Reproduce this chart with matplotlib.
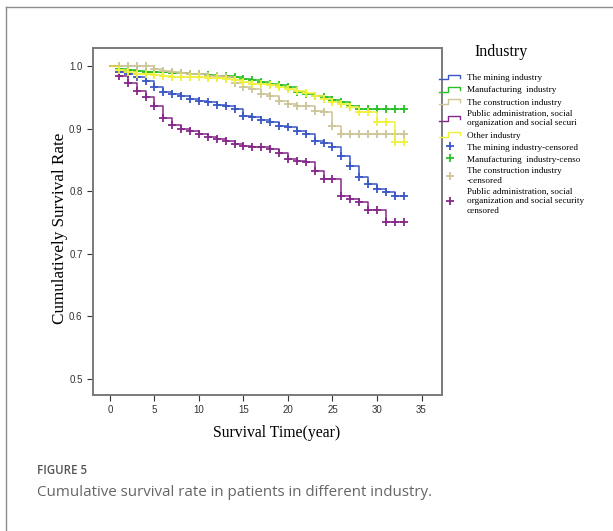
import matplotlib
matplotlib.use('Agg')
import matplotlib.pyplot as plt
from matplotlib.lines import Line2D
from matplotlib.legend_handler import HandlerBase

# Survival time (years) and Kaplan-Meier estimates per industry
years = list(range(0, 34))

mining = [1.0, .991, .988, .983, .976, .967, .959, .956, .953, .948, .945, .943, .938, .936, .932, .921, .918,
          .914, .911, .904, .902, .896, .891, .881, .877, .871, .857, .841, .822, .812, .804, .798, .793, .793]
manufacturing = [1.0, .996, .994, .993, .991, .991, .990, .989, .989, .988, .987, .986, .985, .984, .982, .980, .978,
                 .975, .972, .970, .966, .959, .956, .953, .950, .946, .943, .937, .932, .932, .932, .932, .932, .932]
construction = [1.0, 1.0, 1.0, 1.0, 1.0, .996, .993, .991, .989, .988, .987, .985, .984, .983, .973, .967, .964,
                .956, .953, .944, .939, .937, .937, .928, .927, .905, .891, .891, .891, .891, .891, .891, .891, .891]
public_admin = [1.0, .985, .973, .960, .950, .936, .917, .906, .900, .897, .891, .887, .883, .880, .876, .873, .871,
                .871, .868, .861, .852, .848, .847, .833, .820, .820, .793, .788, .782, .770, .770, .750, .750, .750]
other = [1.0, .994, .991, .988, .988, .986, .984, .983, .982, .982, .982, .981, .981, .980, .978, .975, .972,
         .971, .970, .967, .964, .961, .957, .953, .948, .943, .939, .935, .927, .927, .911, .911, .879, .879]

series = [
    ('The mining industry', mining, '#3b57c6'),
    ('Manufacturing  industry', manufacturing, '#26c026'),
    ('The construction industry', construction, '#cdc497'),
    ('Public administration, social\norganization and social securi', public_admin, '#86288a'),
    ('Other industry', other, '#f0f03c'),
]
censored_labels = [
    'The mining industry-censored',
    'Manufacturing  industry-censo',
    'The construction industry\n-censored',
    'Public administration, social\norganization and social security\ncensored',
]


class StepHandler(HandlerBase):
    # little step glyph like the SPSS legend
    def create_artists(self, legend, orig_handle, xdescent, ydescent, width, height, fontsize, trans):
        x0 = -xdescent
        y0 = -ydescent
        xs = [x0, x0 + 0.45 * width, x0 + 0.45 * width, x0 + width, x0 + width]
        ys = [y0 + 0.15 * height, y0 + 0.15 * height, y0 + 0.85 * height, y0 + 0.85 * height, y0 + 0.45 * height]
        ln = Line2D(xs, ys, color=orig_handle.get_color(), lw=1.0)
        ln.set_transform(trans)
        return [ln]


fig = plt.figure(figsize=(6.13, 5.31), dpi=100)
ax = fig.add_axes([93 / 613, 1 - 395 / 531, (442 - 93) / 613, (395 - 48) / 531])

line_handles = []
cens_handles = []
for i, (name, vals, col) in enumerate(series):
    ln, = ax.plot(years, vals, drawstyle='steps-post', color=col, lw=1.1, zorder=3 + i * 0.1)
    mk, = ax.plot(years[1:], vals[1:], linestyle='none', marker='+', ms=6, mew=1.3, color=col, zorder=3 + i * 0.1)
    line_handles.append(ln)
    cens_handles.append(mk)

ax.set_xlim(-1.9, 37.3)
ax.set_ylim(0.474, 1.029)
ax.set_xticks(range(0, 36, 5))
ax.set_yticks([0.5, 0.6, 0.7, 0.8, 0.9, 1.0])
ax.set_yticklabels(['0.5', '0.6', '0.7', '0.8', '0.9', '1.0'])
ax.tick_params(labelsize=7, colors='#333333', length=4, width=0.8)
for lab in ax.get_xticklabels() + ax.get_yticklabels():
    lab.set_family('Liberation Sans')
for sp in ax.spines.values():
    sp.set_color('#7a7a7a')
    sp.set_linewidth(1.4)

ax.set_xlabel('Survival Time(year)', family='Liberation Serif', fontsize=11.3)
ax.set_ylabel('Cumulatively Survival Rate', family='Liberation Serif', fontsize=12.3)
ax.xaxis.set_label_coords(0.527, -0.086)
ax.yaxis.set_label_coords(-0.072, 0.48)

handles = line_handles + cens_handles[:4]
labels = [s[0] for s in series] + censored_labels
handler_map = {h: StepHandler() for h in line_handles}
fig.legend(handles, labels, handler_map=handler_map, loc='upper left',
           bbox_to_anchor=(439 / 613, 1 - 74 / 531), frameon=False,
           prop={'family': 'Liberation Serif', 'size': 6.6}, handlelength=2.3,
           handletextpad=0.75, labelspacing=0.4, borderpad=0, borderaxespad=0)
fig.text(501 / 613, 1 - 52 / 531, 'Industry', family='Liberation Serif', fontsize=11.5, ha='center', va='center')

# caption block
fig.text(37 / 613, 1 - 470 / 531, 'FIGURE 5', family='Open Sans', fontsize=8.3, color='#555555',
         weight='semibold', va='center')
fig.text(37 / 613, 1 - 492 / 531, 'Cumulative survival rate in patients in different industry.',
         family='Open Sans', fontsize=10.9, color='#666666', va='center')

# outer frame (top and left edges visible)
fig.add_artist(Line2D([6 / 613, 6 / 613], [0, 1 - 7 / 531], transform=fig.transFigure, color='#8c8c8c', lw=1.0))
fig.add_artist(Line2D([6 / 613, 1], [1 - 7 / 531, 1 - 7 / 531], transform=fig.transFigure, color='#8c8c8c', lw=1.0))

fig.savefig('out.png', dpi=100)
